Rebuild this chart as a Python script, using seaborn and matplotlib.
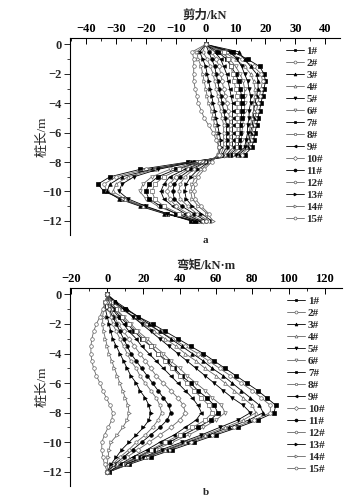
import numpy as np
import pandas as pd
import matplotlib
matplotlib.use("Agg")
import matplotlib.pyplot as plt
from matplotlib.ticker import MultipleLocator
import seaborn as sns

# depth along the pile (m), every 0.5 m
depth = [0, -0.5, -1, -1.5, -2, -2.5, -3, -3.5, -4, -4.5, -5, -5.5, -6, -6.5, -7, -7.5,
         -8, -8.5, -9, -9.5, -10, -10.5, -11, -11.5, -12]

piles = ["1#", "2#", "3#", "4#", "5#", "6#", "7#", "8#", "9#", "10#", "11#", "12#", "13#", "14#", "15#"]

# shear force kN
shear_1 = [0, 9, 14, 18, 19.5, 20, 19.5, 19, 18.5, 18, 17.5, 17, 16.5, 16, 15.5, 13, -6, -22, -32, -36, -34, -28, -21, -13, -5]
shear_2 = [0, 7, 12, 16, 18.5, 19, 18.5, 18, 17.5, 17, 16.5, 16, 15.5, 15, 14.5, 12, -5, -20, -30, -34, -33, -28, -21, -13, -4]
shear_3 = [0, 11, 13, 15, 17, 17.5, 17.5, 17, 16.5, 16, 16, 15.5, 15, 14.5, 14, 11, -5, -18, -28, -32, -33, -29, -22, -14, -4]
shear_4 = [0, 6, 10, 13, 15, 16, 16.5, 16.5, 16, 16, 15.5, 15, 14.5, 14, 13.5, 10.5, -4, -17, -26, -30, -31, -27, -21, -13, -3]
shear_5 = [0, 8, 10.5, 12, 13, 14, 14.5, 15, 15, 14.5, 14.5, 14, 14, 13.5, 13, 10, -4, -16, -24, -28, -29, -26, -20, -13, -4]
shear_6 = [0, 5, 8, 10, 11.5, 12.5, 13, 13, 13, 13, 12.5, 12.5, 12, 12, 11.5, 9, -3, -12, -18, -21, -22, -20, -16, -10, -3]
shear_7 = [0, 4, 7, 8.5, 10, 11, 11.5, 12, 12, 12, 12, 11.5, 11.5, 11, 11, 8, -2, -10, -16, -19, -20, -19, -15, -10, -3]
shear_8 = [0, 6, 7.5, 8.5, 9, 9.5, 10, 10.5, 10.5, 10.5, 10.5, 10.5, 10.5, 10, 10, 7.5, -2, -9, -14, -17, -18, -17, -14, -9, -2]
shear_9 = [0, 3, 5, 6, 7, 7.5, 8, 8.5, 9, 9, 9, 9, 9, 9, 9, 7, -1, -7, -12, -14, -15, -14, -11, -7, -2]
shear_10 = [0, 2, 3.5, 4.5, 5, 5.5, 6, 6.5, 7, 7.5, 8, 8, 8, 8, 8, 6, -1, -6, -10, -12, -13, -12, -10, -6, -1]
shear_11 = [0, 1, 2, 3, 3.5, 4, 4.5, 5, 5.5, 6, 6.5, 7, 7, 7, 7, 5.5, 0, -5, -8.5, -10.5, -11, -10.5, -8, -4, 0]
shear_12 = [0, -1, 0.5, 1.5, 2.5, 3, 3.5, 4, 4.5, 5, 5.5, 6, 6, 6, 6, 5, 0, -4, -7, -8.5, -9, -8.5, -6, -3, 1]
shear_13 = [0, -2, -1, 0, 0.5, 1, 1.5, 2, 2.5, 3, 3.5, 4, 4.5, 5, 5, 4.5, 1, -2.5, -5, -6.5, -7, -6.5, -4.5, -1.5, 2]
shear_14 = [0, -3, -2.5, -1.5, -1, -0.5, 0, 0.5, 1, 2, 2.5, 3, 3.5, 4, 4.5, 4, 1.5, -1.5, -3.5, -4.5, -5, -4.5, -2.5, 0.5, 2.5]
shear_15 = [0, -4.5, -4, -4, -4, -4, -3.5, -3, -2.5, -1.5, -0.5, 1, 2.5, 3.5, 4.5, 4.5, 2, -0.5, -2.5, -3.5, -4, -3.5, -1.5, 1, 0]

# bending moment kN*m
moment_1 = [0, 4, 10, 17, 25, 32, 39, 46, 53, 59, 65, 71, 77, 83, 88, 93, 92, 83, 72, 60, 48, 36, 24, 12, 1]
moment_2 = [0, 3, 8, 15, 22, 29, 36, 43, 50, 56, 62, 68, 74, 80, 85, 90, 90, 81, 70, 58, 46, 34, 22, 11, 1]
moment_3 = [0, 5, 11, 17, 23, 29, 35, 41, 47, 53, 58, 64, 69, 74, 79, 84, 86, 78, 67, 56, 44, 33, 21, 10, 1]
moment_4 = [0, 3, 8, 14, 20, 26, 32, 38, 43, 49, 54, 60, 65, 70, 75, 80, 82, 75, 65, 54, 43, 32, 21, 10, 1]
moment_5 = [0, 4, 9, 14, 19, 24, 29, 34, 39, 44, 49, 54, 59, 64, 69, 75, 79, 72, 62, 52, 41, 30, 20, 10, 1]
moment_6 = [0, 2, 5, 9, 13, 17, 22, 26, 31, 35, 40, 44, 49, 54, 58, 63, 65, 60, 53, 45, 36, 27, 18, 9, 1]
moment_7 = [0, 1, 4, 7, 11, 15, 19, 24, 28, 33, 37, 41, 46, 50, 55, 59, 61, 57, 50, 42, 34, 25, 17, 8, 1]
moment_8 = [0, 2, 5, 8, 12, 16, 20, 24, 28, 32, 36, 40, 44, 48, 52, 56, 58, 54, 47, 40, 32, 24, 16, 8, 1]
moment_9 = [0, 1, 3, 6, 9, 12, 16, 19, 23, 27, 31, 35, 39, 43, 47, 50, 52, 49, 43, 37, 29, 22, 14, 7, 1]
moment_10 = [0, 1, 2, 4, 6, 9, 12, 15, 18, 21, 24, 27, 31, 35, 39, 42, 43, 40, 35, 29, 23, 17, 11, 5, 0]
moment_11 = [0, 0, 1, 3, 5, 7, 9, 11, 13, 16, 19, 22, 25, 28, 31, 34, 35, 33, 29, 24, 19, 14, 9, 4, 0]
moment_12 = [0, 0, 1, 2, 3, 5, 7, 9, 11, 13, 16, 18, 21, 24, 27, 29, 30, 28, 25, 21, 16, 12, 7, 3, 0]
moment_13 = [0, -1, -1, 0, 1, 2, 3, 5, 7, 9, 11, 13, 16, 18, 21, 23, 24, 23, 20, 16, 12, 8, 5, 2, 0]
moment_14 = [0, -1, -2, -2.5, -2.5, -2, -1, 0, 1, 2.5, 4, 5.5, 7, 8.5, 10, 11.5, 12, 11, 8.5, 5.5, 2, 1, 0.5, 0, 0]
moment_15 = [0, -1, -2.5, -4, -6, -7.5, -8.5, -9, -9, -8.5, -7.5, -6, -4, -2.5, -0.5, 1.5, 3, 2.5, 0.5, -1.5, -3, -3, -2.5, -1.5, 0]

shear = [shear_1, shear_2, shear_3, shear_4, shear_5, shear_6, shear_7, shear_8,
         shear_9, shear_10, shear_11, shear_12, shear_13, shear_14, shear_15]
moment = [moment_1, moment_2, moment_3, moment_4, moment_5, moment_6, moment_7, moment_8,
          moment_9, moment_10, moment_11, moment_12, moment_13, moment_14, moment_15]

# marker style per pile: (marker, filled)
marker_list = [("s", True), ("o", False), ("^", True), ("^", False), ("v", True), ("v", False),
               ("s", True), ("s", False), ("<", True), ("D", False), ("o", True), ("h", False),
               (">", True), (">", False), ("o", False)]

sns.set_style("white")
plt.rcParams["font.family"] = ["Liberation Serif", "Noto Sans CJK SC"]
plt.rcParams["font.weight"] = "bold"

fig = plt.figure(figsize=(3.64, 5.04), dpi=100)
ax1 = fig.add_axes([0.192, 0.534, 0.742, 0.391])
ax2 = fig.add_axes([0.192, 0.036, 0.747, 0.393])


def draw_panel(ax, series):
    for i in range(15):
        mk, filled = marker_list[i]
        col = "black" if filled else "#666666"
        sns.lineplot(x=series[i], y=depth, ax=ax, sort=False, orient="y", estimator=None,
                     color=col, lw=0.6, marker=mk, markersize=2.6,
                     markerfacecolor=col if filled else "white",
                     markeredgecolor=col, markeredgewidth=0.5, label=piles[i])
    ax.xaxis.tick_top()
    ax.xaxis.set_label_position("top")
    for s in ["right", "bottom"]:
        ax.spines[s].set_visible(False)
    for s in ["top", "left"]:
        ax.spines[s].set_color("black")
        ax.spines[s].set_linewidth(0.8)
    ax.set_ylim(-12.95, 0.45)
    ax.yaxis.set_major_locator(MultipleLocator(2))
    ax.yaxis.set_minor_locator(MultipleLocator(1))
    ax.tick_params(axis="x", which="both", direction="in", top=True, bottom=False,
                   labelsize=9, pad=2, colors="black")
    ax.tick_params(axis="x", which="major", length=4, width=0.7)
    ax.tick_params(axis="x", which="minor", length=2, width=0.6)
    ax.tick_params(axis="y", which="both", direction="out", left=True, labelsize=9, pad=2)
    ax.tick_params(axis="y", which="major", length=4, width=0.7)
    ax.tick_params(axis="y", which="minor", length=2, width=0.6)
    ax.set_xlabel("")
    ax.set_ylabel("桩长/m", fontsize=9.5)
    ax.yaxis.set_label_coords(-0.08, 0.5)
    ax.legend(loc="upper left", bbox_to_anchor=(0.8, 0.958), frameon=False, fontsize=8,
              labelspacing=0.2, handlelength=1.6, handletextpad=0.25, borderpad=0,
              borderaxespad=0, markerscale=0.8)


draw_panel(ax1, shear)
ax1.set_xlim(-45.4, 44.9)
ax1.xaxis.set_major_locator(MultipleLocator(10))
ax1.xaxis.set_minor_locator(MultipleLocator(5))

draw_panel(ax2, moment)
ax2.set_xlim(-20.6, 129.4)
ax2.xaxis.set_major_locator(MultipleLocator(20))
ax2.xaxis.set_minor_locator(MultipleLocator(10))

fig.text(0.563, 0.968, "剪力/kN", ha="center", va="center", fontsize=9)
fig.text(0.566, 0.472, "弯矩/kN·m", ha="center", va="center", fontsize=9)
fig.text(0.563, 0.523, "a", ha="center", va="center", fontsize=8)
fig.text(0.566, 0.022, "b", ha="center", va="center", fontsize=8)

fig.savefig("out.png", dpi=100)
